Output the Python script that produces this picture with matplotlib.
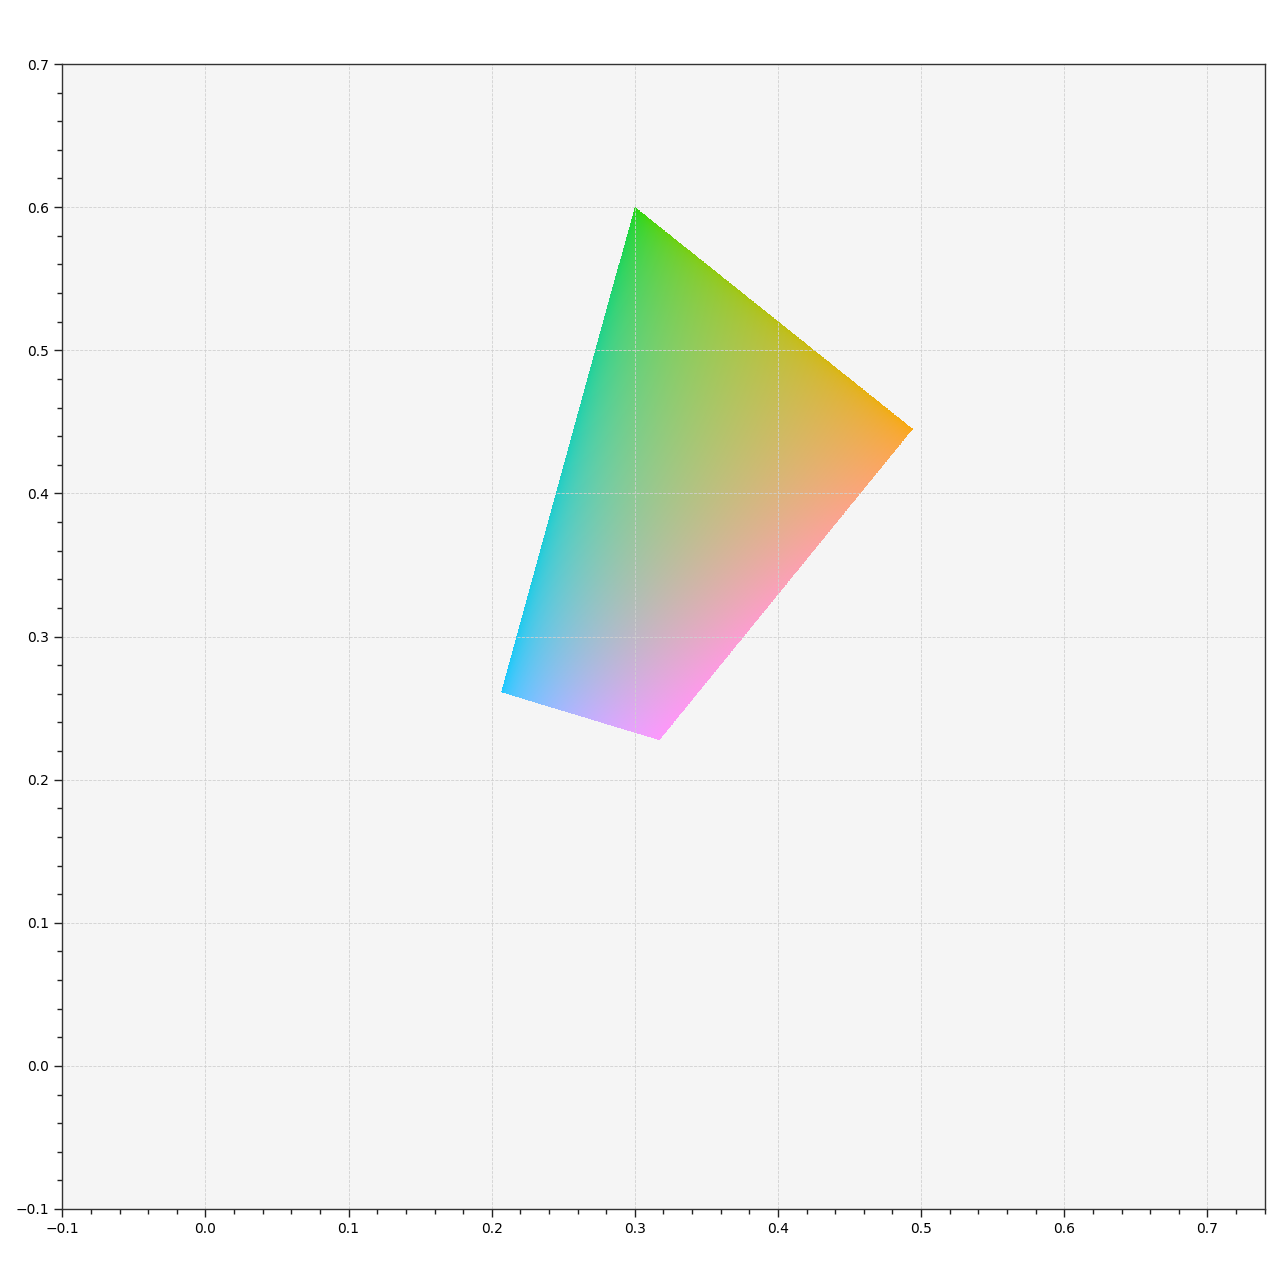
import numpy as np
import matplotlib
matplotlib.use("Agg")
import matplotlib.pyplot as plt

# Quadrilateral corner positions
corner_names = ["green", "orange", "magenta", "cyan"]
corner_x = [0.300, 0.494, 0.317, 0.2066]
corner_y = [0.600, 0.445, 0.2276, 0.2611]
# Corner colours (sRGB 0-255)
corner_rgb = [
    (30, 214, 0),
    (250, 168, 10),
    (252, 152, 252),
    (24, 200, 255),
]
# colour seen at the middle of the shape
center_rgb = (176, 194, 142)

x_limits = (-0.1, 0.74)
y_limits = (-0.1, 0.7)

fig = plt.figure(figsize=(12.8, 12.8), dpi=100)
ax = fig.add_axes([62 / 1280, 71 / 1280, (1265 - 62) / 1280, (1209 - 64) / 1280])
ax.set_facecolor("#f5f5f5")

n = 400
s = np.linspace(0, 1, n + 1)
t = np.linspace(0, 1, n + 1)
S, T = np.meshgrid(s, t)
cx = np.array(corner_x)
cy = np.array(corner_y)
w = [(1 - S) * (1 - T), S * (1 - T), S * T, (1 - S) * T]
X = sum(w[i] * cx[i] for i in range(4))
Y = sum(w[i] * cy[i] for i in range(4))

sc = (s[:-1] + s[1:]) / 2
tc = (t[:-1] + t[1:]) / 2
SC, TC = np.meshgrid(sc, tc)
wc = [(1 - SC) * (1 - TC), SC * (1 - TC), SC * TC, (1 - SC) * TC]
crgb = np.array(corner_rgb, dtype=float) / 255.0
lin = crgb ** 2.2
L = sum(wc[i][..., None] * lin[i] for i in range(4))
C = L ** (1 / 2.2)
lin_center = lin.mean(axis=0) ** (1 / 2.2)
bump = 16 * SC * (1 - SC) * TC * (1 - TC)
C = C + bump[..., None] * (np.array(center_rgb) / 255.0 - lin_center)
C = np.clip(C, 0, 1)

ax.pcolormesh(X, Y, C, shading="flat", edgecolors="none", antialiased=False, zorder=1)

ax.set_xlim(*x_limits)
ax.set_ylim(*y_limits)
ax.set_aspect("equal", adjustable="box")
ax.set_xticks(np.round(np.arange(-0.1, 0.71, 0.1), 2))
ax.set_yticks(np.round(np.arange(-0.1, 0.71, 0.1), 2))
ax.set_xticks(np.arange(-0.1, 0.741, 0.02), minor=True)
ax.set_yticks(np.arange(-0.1, 0.701, 0.02), minor=True)
ax.tick_params(which="major", length=6, width=1, labelsize=10, color="#222222")
ax.tick_params(which="minor", length=3.5, width=1, color="#222222")
ax.grid(True, which="major", color="#d0d0d0", linestyle="--", linewidth=0.6, zorder=2)
ax.set_axisbelow(False)
for sp in ax.spines.values():
    sp.set_color("#333333")
    sp.set_linewidth(1.0)
    sp.set_zorder(5)

fig.savefig("out.png", dpi=100)
